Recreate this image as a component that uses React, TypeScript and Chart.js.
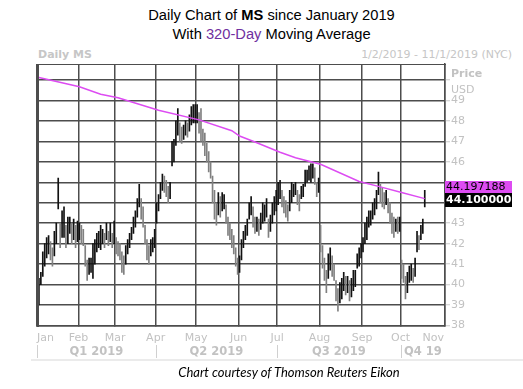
import React, { useEffect, useRef } from 'react';
import { Chart, registerables } from 'chart.js';

Chart.register(...registerables);

// ---------- data ----------
const monthNames = ['Jan', 'Feb', 'Mar', 'Apr', 'May', 'Jun', 'Jul', 'Aug', 'Sep', 'Oct', 'Nov'];
// index (trading day since Jan 2 2019) of the first session of each month
const monthStartIdx = [0, 21, 40, 61, 82, 104, 124, 146, 168, 188, 211];
const quarterLabels = ['Q1 2019', 'Q2 2019', 'Q3 2019', 'Q4 19'];
const quarterStartMonth = [0, 3, 6, 9];
const yTickValues = [38, 39, 40, 41, 42, 43, 44, 45, 46, 47, 48, 49, 50];
const hiddenYLabels = [44, 45, 50];

// daily [low, high] ranges
const janBars: [number, number][] = [
  [39.0, 40.3], [40.0, 40.6], [40.4, 41.6], [40.9, 42.0], [41.3, 42.3], [41.5, 42.4], [41.2, 42.1],
  [40.9, 41.8], [41.4, 42.6], [42.0, 43.0], [43.7, 45.2], [41.8, 43.0], [42.3, 43.6], [42.3, 43.8],
  [41.8, 42.9], [42.0, 43.3], [42.5, 43.3], [42.0, 43.0], [42.2, 43.2], [41.8, 42.9], [42.1, 43.1],
];
const febBars: [number, number][] = [
  [42.2, 43.0], [42.0, 42.9], [41.9, 42.7], [40.9, 41.9], [40.2, 41.2], [40.5, 41.3], [40.6, 41.3],
  [40.3, 42.0], [41.0, 42.2], [41.6, 42.5], [41.8, 42.6], [41.7, 42.9], [42.0, 42.7], [41.8, 42.5],
  [42.2, 43.0], [41.9, 42.6], [42.1, 43.0], [41.8, 42.5], [42.0, 43.1],
];
const marBars: [number, number][] = [
  [41.5, 42.3], [41.4, 42.1], [41.2, 42.0], [40.6, 41.6], [40.5, 41.4], [41.0, 41.9], [41.5, 42.2],
  [41.8, 42.5], [42.2, 42.8], [42.5, 43.3], [42.8, 43.6], [43.3, 44.2], [43.8, 44.9], [43.2, 44.2],
  [42.8, 43.8], [42.0, 42.9], [41.2, 42.2], [41.0, 41.9], [41.4, 42.2], [41.6, 42.3], [41.8, 42.7],
];
const aprBars: [number, number][] = [
  [43.0, 44.0], [43.6, 44.4], [44.2, 45.0], [44.6, 45.4], [44.5, 45.3], [44.3, 45.1], [44.0, 44.8],
  [44.2, 45.0], [45.8, 47.0], [46.0, 47.1], [46.8, 48.0], [47.3, 48.6], [47.0, 47.9], [46.9, 47.7],
  [47.1, 47.8], [47.3, 48.0], [47.2, 47.9], [47.5, 48.3], [47.8, 48.7], [47.9, 48.8], [47.9, 48.8],
];
const mayBars: [number, number][] = [
  [47.9, 48.8], [47.4, 48.4], [47.0, 48.6], [46.8, 47.6], [46.3, 47.4], [46.0, 46.9], [45.5, 46.5],
  [45.2, 46.0], [44.0, 45.3], [43.2, 44.6], [42.9, 44.0], [43.4, 44.5], [43.3, 44.3], [43.6, 44.5],
  [43.7, 44.4], [43.0, 43.9], [42.4, 43.3], [42.2, 43.0], [41.8, 42.7], [41.5, 42.4], [40.9, 41.8],
  [40.5, 41.3],
];
const junBars: [number, number][] = [
  [40.6, 41.4], [41.2, 42.2], [41.8, 42.6], [42.2, 42.9], [42.4, 43.2], [43.2, 44.0], [43.4, 44.3],
  [42.8, 43.8], [42.5, 43.3], [42.6, 43.3], [42.4, 43.2], [42.7, 43.5], [43.0, 44.0], [43.1, 43.9],
  [43.3, 44.2], [42.3, 43.2], [42.6, 43.4], [43.0, 44.0], [43.4, 44.3], [43.6, 44.6],
];
const julBars: [number, number][] = [
  [43.9, 45.0], [44.2, 45.1], [43.8, 44.6], [43.5, 44.3], [43.3, 44.1], [43.1, 43.9], [43.6, 44.6],
  [44.0, 45.0], [44.3, 44.9], [44.4, 45.0], [43.9, 44.6], [43.6, 44.4], [44.2, 44.8], [44.3, 44.9],
  [44.8, 45.6], [45.0, 45.6], [45.1, 45.8], [45.0, 45.9], [45.2, 45.9], [44.9, 45.7], [44.3, 45.0],
  [44.5, 45.2],
];
const augBars: [number, number][] = [
  [41.6, 42.9], [40.8, 41.9], [40.2, 41.3], [39.6, 40.7], [40.3, 41.5], [40.7, 41.8], [40.4, 41.4],
  [40.2, 41.0], [39.2, 40.2], [38.7, 39.8], [39.1, 40.1], [39.3, 40.3], [39.7, 40.6], [39.5, 40.4],
  [39.6, 40.4], [39.2, 40.2], [39.4, 40.3], [39.7, 40.7], [39.9, 40.7], [40.8, 41.5], [40.9, 41.8],
  [41.3, 42.0],
];
const sepBars: [number, number][] = [
  [41.6, 42.3], [42.0, 43.0], [42.2, 43.3], [42.8, 43.6], [42.9, 43.6], [43.2, 44.0], [43.4, 44.2],
  [43.7, 44.6], [44.4, 45.5], [44.0, 44.9], [43.8, 44.7], [43.7, 44.5], [43.9, 44.6], [43.5, 44.2],
  [43.0, 44.0], [42.5, 43.5], [42.3, 43.3], [42.6, 43.2], [42.5, 43.3], [42.6, 43.3],
];
const octBars: [number, number][] = [
  [40.3, 41.2], [40.1, 41.0], [39.3, 40.4], [39.6, 40.6], [40.1, 40.9], [40.2, 41.0], [40.1, 40.8],
  [40.4, 41.3], [41.6, 42.6], [41.7, 42.4], [42.2, 42.9], [42.5, 43.2], [43.8, 44.6],
];

// 320-day moving average, read at a few sessions
const maIdx = [0, 21, 32, 41, 62, 83, 100, 104, 112, 125, 133, 146, 166, 176, 188, 200];
const maVal = [50.12, 49.67, 49.3, 49.13, 48.52, 48.05, 47.52, 47.26, 46.97, 46.47, 46.2, 45.88, 45.04, 44.8, 44.5, 44.2];

const lastPrice = 44.1;
const lastMA = 44.197188;

const allBars = [
  ...janBars, ...febBars, ...marBars, ...aprBars, ...mayBars, ...junBars,
  ...julBars, ...augBars, ...sepBars, ...octBars,
];

const FONT = "'DejaVu Sans', Verdana, sans-serif";
const LABEL_GRAY = '#c2c2c2';
const GRID = '#4d4d4d';
const MA_COLOR = '#dd4cf2';

const overlayPlugin = {
  id: 'overlay',
  afterDraw(chart: any) {
    const { ctx, chartArea: a, scales } = chart;
    const xs = scales.x;
    const ys = scales.y;
    ctx.save();
    // frame (top and left edges)
    ctx.fillStyle = GRID;
    ctx.fillRect(Math.round(a.left), Math.round(a.top), Math.round(a.right - a.left) + 1, 1);
    ctx.fillRect(Math.round(a.left), Math.round(a.top), 2, Math.round(a.bottom - a.top) + 1);

    // month labels
    ctx.fillStyle = LABEL_GRAY;
    ctx.font = `11px ${FONT}`;
    ctx.textBaseline = 'middle';
    const monthPx = monthStartIdx.map((v, i) => xs.getPixelForValue(i === 0 ? xs.min : v - 0.5));
    monthNames.forEach((m, i) => {
      const px = monthPx[i];
      if (i === 0) { ctx.textAlign = 'left'; ctx.fillText(m, px, 338); }
      else if (i === monthNames.length - 1) { ctx.textAlign = 'right'; ctx.fillText(m, px - 1, 338); }
      else { ctx.textAlign = 'center'; ctx.fillText(m, px, 338); }
    });

    // quarter row
    ctx.font = `bold 11.5px ${FONT}`;
    quarterLabels.forEach((q, i) => {
      const start = monthPx[quarterStartMonth[i]];
      const end = i < quarterLabels.length - 1 ? monthPx[quarterStartMonth[i + 1]] : a.right;
      ctx.fillStyle = '#d0d0d0';
      ctx.fillRect(Math.round(start), 345, 1, 13);
      ctx.fillStyle = LABEL_GRAY;
      ctx.textAlign = 'center';
      ctx.fillText(q, (start + end) / 2, 352);
    });

    // axis title
    ctx.textAlign = 'left';
    ctx.textBaseline = 'alphabetic';
    ctx.font = `bold 11px ${FONT}`;
    ctx.fillText('Price', a.right + 6, 77);
    ctx.font = `11px ${FONT}`;
    ctx.fillText('USD', a.right + 6, 93);

    // last value boxes
    const py = ys.getPixelForValue(lastPrice);
    const bx = a.right;
    const bw = 67;
    const blackTop = Math.round(py - 8);
    ctx.fillStyle = '#000';
    ctx.fillRect(bx, blackTop, bw, 14);
    ctx.fillStyle = MA_COLOR;
    ctx.fillRect(bx, blackTop - 12, bw, 12);
    ctx.textBaseline = 'middle';
    ctx.font = `11px ${FONT}`;
    ctx.fillStyle = '#000';
    ctx.fillText(lastMA.toFixed(6), bx + 1, blackTop - 6);
    ctx.font = `bold 11px ${FONT}`;
    ctx.fillStyle = '#fff';
    ctx.fillText(lastPrice.toFixed(6), bx + 1, blackTop + 7.5);
    ctx.restore();
  },
};

export default function App() {
  const ref = useRef<HTMLCanvasElement>(null);

  useEffect(() => {
    if (!ref.current) return;
    const barData = allBars.map((b, i) => ({ x: i, y: b }));
    const barColors = allBars.map((b, i) => {
      if (i === 0) return '#111';
      const prev = allBars[i - 1];
      return (b[0] + b[1]) >= (prev[0] + prev[1]) ? '#111' : '#808080';
    });
    const maData = maIdx.map((x, i) => ({ x, y: maVal[i] }));

    const chart = new Chart(ref.current, {
      type: 'bar',
      data: {
        datasets: [
          {
            type: 'line',
            data: maData as any,
            borderColor: MA_COLOR,
            borderWidth: 1.5,
            pointRadius: 0,
            tension: 0,
            fill: false,
            order: 0,
          } as any,
          {
            type: 'bar',
            data: barData as any,
            backgroundColor: barColors,
            borderWidth: 0,
            barThickness: 1,
            grouped: false,
            order: 1,
          } as any,
        ],
      },
      options: {
        responsive: false,
        animation: false,
        layout: { padding: { top: 64, left: 37, right: 0, bottom: 0 } },
        plugins: { legend: { display: false }, tooltip: { enabled: false }, title: { display: false } },
        scales: {
          x: {
            type: 'linear',
            min: -1,
            max: 210.5,
            offset: false,
            afterBuildTicks: (s: any) => {
              s.ticks = monthStartIdx.map((v, i) => ({ value: i === 0 ? -1 : v - 0.5 }));
            },
            afterFit: (s: any) => { s.height = 63.5; },
            ticks: { display: false },
            grid: { color: GRID, lineWidth: 1.5, offset: false, tickLength: 0 },
            border: { display: true, color: GRID, width: 1.5 },
          },
          y: {
            type: 'linear',
            position: 'right',
            min: 38,
            max: 50.78,
            afterBuildTicks: (s: any) => {
              s.ticks = yTickValues.map((v) => ({ value: v }));
            },
            afterFit: (s: any) => { s.width = 78; },
            ticks: {
              color: LABEL_GRAY,
              font: { family: FONT, size: 11 },
              padding: 1,
              callback: (v: any) => (hiddenYLabels.includes(Number(v)) ? '' : String(v)),
            },
            grid: { color: GRID, lineWidth: 1.5, tickLength: 5, tickColor: '#c8c8c8', tickWidth: 1 },
            border: { display: true, color: GRID, width: 1.5 },
          },
        },
      },
      plugins: [overlayPlugin],
    });
    return () => chart.destroy();
  }, []);

  return (
    <div style={{ position: 'fixed', left: 0, top: 0, width: 523, height: 389, background: '#fff', overflow: 'hidden' }}>
      <div style={{ position: 'absolute', left: 20, top: 6, width: 503, textAlign: 'center', fontFamily: "'Liberation Sans', Arial, sans-serif", fontSize: 14.7, lineHeight: '19px', color: '#000' }}>
        <div>Daily Chart of <b>MS</b> since January 2019</div>
        <div>With <span style={{ color: '#7030a0' }}>320-Day</span> Moving Average</div>
      </div>
      <div style={{ position: 'absolute', left: 38, top: 48, fontFamily: FONT, fontSize: 11, lineHeight: '13px', fontWeight: 'bold', color: '#c6c6c6' }}>Daily MS</div>
      <div style={{ position: 'absolute', right: 11, top: 48, fontFamily: FONT, fontSize: 11, lineHeight: '13px', color: '#c6c6c6' }}>1/2/2019 - 11/1/2019 (NYC)</div>
      <canvas ref={ref} width={523} height={389} style={{ position: 'absolute', left: 0, top: 0, width: 523, height: 389 }} />
      <div style={{ position: 'absolute', left: 31, top: 359, width: 492, height: 2, background: '#ebebeb' }} />
      <div style={{ position: 'absolute', left: 0, top: 364, width: 578, textAlign: 'center', fontFamily: "Lato, 'Open Sans', sans-serif", fontStyle: 'italic', fontSize: 13, lineHeight: '17px', color: '#000' }}>Chart courtesy of Thomson Reuters Eikon</div>
    </div>
  );
}
